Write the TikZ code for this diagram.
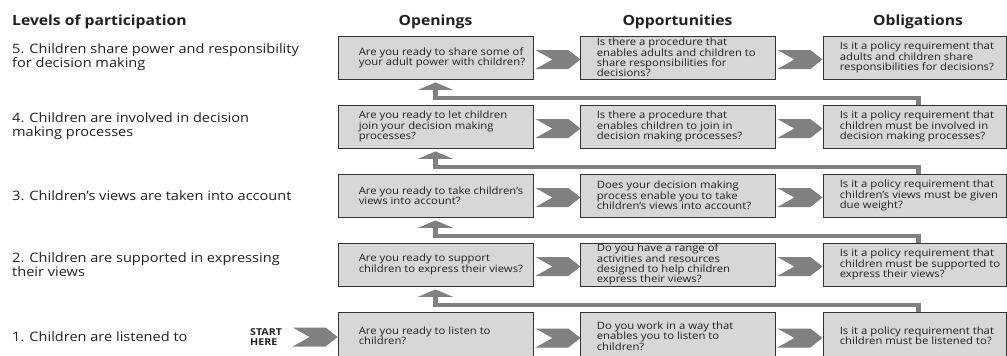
\documentclass[tikz,border=0pt]{standalone}
\usepackage{fontspec}
\setmainfont{Open Sans}[FakeStretch=1.12]
\usetikzlibrary{arrows.meta, positioning}

\definecolor{boxgray}{HTML}{D7D7D7}
\definecolor{linegray}{HTML}{808080}
\definecolor{inkgray}{HTML}{231F20}

\tikzset{
  qbox/.style={draw=black!80, line width=0.8pt, fill=boxgray, minimum width=195pt, minimum height=43pt, inner sep=0pt},
  qtext/.style={align=left, inner sep=0pt, text=inkgray, font=\fontsize{10.1}{10.3}\selectfont},
  level/.style={align=left, anchor=west, inner sep=0pt, text=inkgray, font=\fontsize{13}{14}\selectfont},
  head/.style={anchor=base, inner sep=0pt, text=inkgray, font=\bfseries\fontsize{14}{16}\selectfont},
  feedback/.style={draw=linegray, line width=4.2pt, -{Triangle[width=35pt,length=7.5pt]}},
}

% fat notched arrow, #1 = left end
\newcommand{\chevarrow}[1]{%
  \fill[linegray, shift={#1}] (0,-9.5) -- (33,-9.5) -- (45,0) -- (33,9.5) -- (0,9.5) -- (17,0) -- cycle;}

\begin{document}
\begin{tikzpicture}[x=1pt, y=-1pt]
\useasboundingbox (0,0) rectangle (1007,356);

% headings
\node[head, anchor=base west] (levels) at (12,25) {Levels of participation};
\node[head] (hopen) at (435.5,25) {Openings};
\node[head] (hopp) at (677.5,25) {Opportunities};
\node[head] (hobl) at (918,25) {Obligations};

% levels
\node[level] (lev5) at (12,57) {5. Children share power and responsibility\\for decision making};
\node[level] (lev4) at (12,126) {4. Children are involved in decision\\making processes};
\node[level] (lev3) at (12,196) {3. Children's views are taken into account};
\node[level] (lev2) at (12,265) {2. Children are supported in expressing\\their views};
\node[level] (lev1) at (12,337) {1. Children are listened to};

% boxes, row 5
\node[qbox] (open5) at (435.5,57.5) {};
\node[qbox] (opp5) at (677.5,57.5) {};
\node[qbox, minimum width=183pt] (obl5) at (914.5,57.5) {};
% row 4
\node[qbox] (open4) at (435.5,126.5) {};
\node[qbox] (opp4) at (677.5,126.5) {};
\node[qbox, minimum width=183pt] (obl4) at (914.5,126.5) {};
% row 3
\node[qbox] (open3) at (435.5,195.5) {};
\node[qbox] (opp3) at (677.5,195.5) {};
\node[qbox, minimum width=183pt] (obl3) at (914.5,195.5) {};
% row 2
\node[qbox] (open2) at (435.5,264.5) {};
\node[qbox] (opp2) at (677.5,264.5) {};
\node[qbox, minimum width=183pt] (obl2) at (914.5,264.5) {};
% row 1 (cut by the page)
\node[qbox, minimum height=48pt] (open1) at (435.5,336) {};
\node[qbox, minimum height=48pt] (opp1) at (677.5,336) {};
\node[qbox, minimum height=48pt, minimum width=183pt] (obl1) at (914.5,336) {};

% questions
\node[qtext, right=21pt of open5.west] (open5t) {Are you ready to share some of\\your adult power with children?};
\node[qtext, right=17pt of opp5.west] (opp5t) {Is there a procedure that\\enables adults and children to\\share responsibilities for\\decisions?};
\node[qtext, right=17pt of obl5.west] (obl5t) {Is it a policy requirement that\\adults and children share\\responsibilities for decisions?};

\node[qtext, right=21pt of open4.west] (open4t) {Are you ready to let children\\join your decision making\\processes?};
\node[qtext, right=17pt of opp4.west] (opp4t) {Is there a procedure that\\enables children to join in\\decision making processes?};
\node[qtext, right=17pt of obl4.west] (obl4t) {Is it a policy requirement that\\children must be involved in\\decision making processes?};

\node[qtext, right=21pt of open3.west] (open3t) {Are you ready to take children's\\views into account?};
\node[qtext, right=17pt of opp3.west] (opp3t) {Does your decision making\\process enable you to take\\children's views into account?};
\node[qtext, right=17pt of obl3.west] (obl3t) {Is it a policy requirement that\\children's views must be given\\due weight?};

\node[qtext, right=21pt of open2.west] (open2t) {Are you ready to support\\children to express their views?};
\node[qtext, right=17pt of opp2.west] (opp2t) {Do you have a range of\\activities and resources\\designed to help children\\express their views?};
\node[qtext, right=17pt of obl2.west] (obl2t) {Is it a policy requirement that\\children must be supported to\\express their views?};

\node[qtext, right=21pt of open1.west] (open1t) {Are you ready to listen to\\children?};
\node[qtext, right=17pt of opp1.west] (opp1t) {Do you work in a way that\\enables you to listen to\\children?};
\node[qtext, right=17pt of obl1.west] (obl1t) {Is it a policy requirement that\\children must be listened to?};

% start
\node[anchor=west, align=left, inner sep=0pt, text=inkgray, font=\bfseries\fontsize{9.5}{10.5}\selectfont] (start) at (250,337) {START\\HERE};
\chevarrow{([xshift=-45pt,yshift=-1pt]open1.west)}

% arrows across
\foreach \r in {1,...,5}{
  \chevarrow{([xshift=2pt,yshift=-2pt]open\r.east)}
  \chevarrow{([xshift=2pt,yshift=-2pt]opp\r.east)}
}

% back to the next level
\foreach \r [evaluate=\r as \s using int(\r+1)] in {1,...,4}{
  \draw[feedback] ([xshift=4pt]obl\r.north) -- ++(0,-7) -| ([yshift=-3pt]open\s.south);
}

\end{tikzpicture}
\end{document}
